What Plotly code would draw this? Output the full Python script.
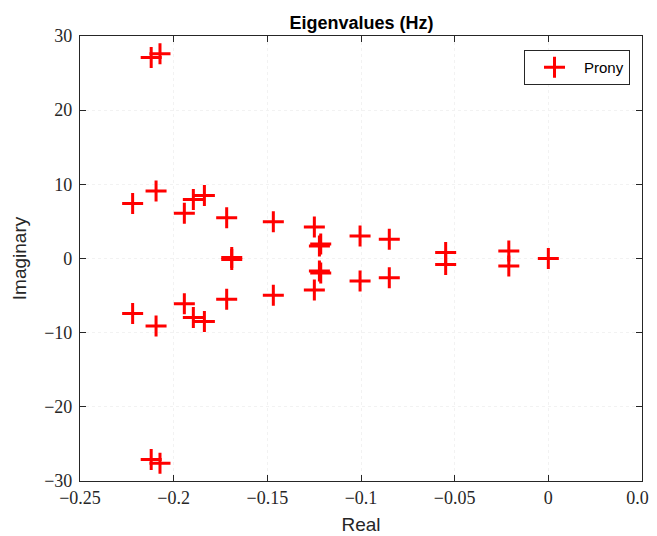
import plotly.graph_objects as go

# Eigenvalues (upper half-plane + conjugates)
real_upper = [-0.2120, -0.2073, -0.2219, -0.2094, -0.1943, -0.1895, -0.1836, -0.1717,
              -0.1690, -0.1468, -0.1249, -0.1215, -0.1222, -0.1005, -0.0849, -0.0548, -0.0211]
imag_upper = [27.1, 27.6, 7.4, 9.1, 6.1, 7.95, 8.5, 5.5,
              0.15, 4.95, 4.25, 1.95, 1.7, 3.05, 2.6, 0.8, 1.0]
real_single = [0.0]
imag_single = [0.0]

real_vals = real_upper + real_upper + real_single
imag_vals = imag_upper + [-v for v in imag_upper] + imag_single

x_ticks = [-0.25, -0.2, -0.15, -0.1, -0.05, 0, 0.05]
x_tick_text = ["\u22120.25", "\u22120.2", "\u22120.15", "\u22120.1", "\u22120.05", "0", "0.05"]
y_ticks = [-30, -20, -10, 0, 10, 20, 30]
y_tick_text = ["\u221230", "\u221220", "\u221210", "0", "10", "20", "30"]

# page body has an 8px margin: figure is placed at (8, 8)
W, H = 649, 528

fig = go.Figure()
fig.add_trace(go.Scatter(
    x=real_vals, y=imag_vals, mode="markers", name="Prony",
    marker=dict(symbol="cross-thin", size=15, color="red",
                line=dict(color="red", width=3)),
))

axis_common = dict(
    showline=True, linecolor="#262626", linewidth=1.2, mirror="ticks",
    ticks="inside", ticklen=6, tickcolor="#262626", tickwidth=1,
    showgrid=True, gridcolor="#f2f2f2", griddash="dot", gridwidth=1,
    zeroline=False, automargin=False, ticklabeloverflow="allow",
    tickfont=dict(family="Liberation Serif, DejaVu Serif, serif", size=18, color="#262626"),
)

fig.update_layout(
    width=W, height=H,
    paper_bgcolor="white", plot_bgcolor="white",
    margin=dict(l=72, r=15, t=28, b=55),
    title=dict(text="<b>Eigenvalues (Hz)</b>", x=(353.5 / W), xanchor="center",
               y=1 - 15 / H, yanchor="middle", automargin=False,
               font=dict(family="Liberation Sans, Arial, sans-serif", size=18, color="black")),
    xaxis=dict(range=[-0.25, 0.05], tickvals=x_ticks, ticktext=x_tick_text,
               title=dict(text="Real", standoff=10,
                          font=dict(family="Liberation Sans, Arial, sans-serif", size=19, color="#262626")),
               **axis_common),
    yaxis=dict(range=[-30, 30], tickvals=y_ticks, ticktext=y_tick_text,
               ticklabelstandoff=3,
               title=dict(text="Imaginary", standoff=12,
                          font=dict(family="Liberation Sans, Arial, sans-serif", size=19, color="#262626")),
               **axis_common),
    showlegend=True,
    legend=dict(x=(630 - 80) / 562, xanchor="right", y=(481 - 50) / 445, yanchor="top",
                bgcolor="white", bordercolor="#262626", borderwidth=1,
                font=dict(family="Liberation Sans, Arial, sans-serif", size=15, color="black"),
                itemwidth=49, tracegroupgap=0),
)

fig.write_html("out.html")
